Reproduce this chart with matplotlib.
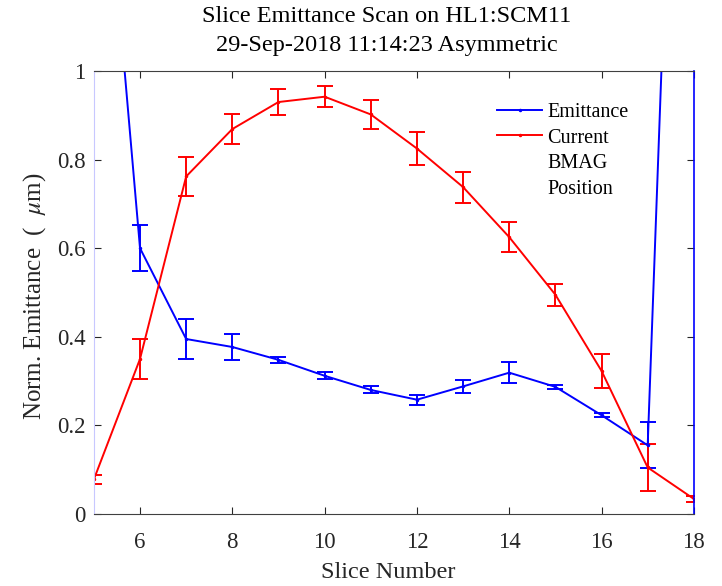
import matplotlib
matplotlib.use("Agg")
import matplotlib.pyplot as plt
from matplotlib.lines import Line2D

plt.rcParams["font.family"] = ["Liberation Serif", "DejaVu Serif"]
plt.rcParams["mathtext.fontset"] = "stix"

# Slice scan data
slices = [5, 6, 7, 8, 9, 10, 11, 12, 13, 14, 15, 16, 17, 18]
emittance = [1.80, 0.600, 0.395, 0.377, 0.348, 0.312, 0.280, 0.258, 0.288, 0.319, 0.287, 0.223, 0.155, 3.00]
emittance_err = [0.0, 0.052, 0.045, 0.030, 0.007, 0.008, 0.008, 0.011, 0.014, 0.024, 0.005, 0.004, 0.052, 0.0]
current = [0.078, 0.350, 0.762, 0.869, 0.930, 0.942, 0.902, 0.825, 0.738, 0.625, 0.495, 0.323, 0.105, 0.034]
current_err = [0.010, 0.045, 0.045, 0.034, 0.029, 0.024, 0.032, 0.037, 0.035, 0.034, 0.025, 0.038, 0.053, 0.006]

xticks = [6, 8, 10, 12, 14, 16, 18]
yticks = [0, 0.2, 0.4, 0.6, 0.8, 1.0]
ytick_labels = ["0", "0.2", "0.4", "0.6", "0.8", "1"]

title_lines = ["Slice Emittance Scan on HL1:SCM11", "29-Sep-2018 11:14:23 Asymmetric"]
legend_labels = ["Emittance", "Current", "BMAG", "Position"]

fig = plt.figure(figsize=(7.22, 5.86), dpi=100)
ax = fig.add_axes([0.130, 0.1229, 0.831, 0.7559])

ax.errorbar(slices, emittance, yerr=emittance_err, color="#0000ff", lw=1.4,
            marker=".", ms=3, capsize=6, elinewidth=1.4, capthick=1.4)
ax.errorbar(slices, current, yerr=current_err, color="#ff0000", lw=1.4,
            marker=".", ms=3, capsize=6, elinewidth=1.4, capthick=1.4)

ax.set_xlim(5, 18)
ax.set_ylim(0, 1)
ax.set_xticks(xticks)
ax.set_yticks(yticks)
ax.set_yticklabels(ytick_labels)

text_color = "#262626"
ax.tick_params(direction="in", length=5, width=0.8, colors="#262626",
               labelsize=16.5, top=True, right=True, labelcolor=text_color)
ax.tick_params(axis="x", pad=13)
ax.tick_params(axis="y", pad=6)

ax.spines["left"].set_color("#c8c8ff")
ax.spines["right"].set_color("#0000ff")
ax.spines["right"].set_linewidth(1.2)
ax.spines["top"].set_color("#404040")
ax.spines["bottom"].set_color("#404040")

ax.set_xlabel("Slice Number", fontsize=17.5, color=text_color)
ax.xaxis.label.set_verticalalignment("center")
ax.xaxis.set_label_coords(0.49, -0.131)
ax.set_ylabel("Norm. Emittance  (  $\\mu$m)", fontsize=18, color=text_color)
ax.yaxis.label.set_verticalalignment("center")
ax.yaxis.set_label_coords(-0.098, 0.492)

fig.text(0.5353, 1 - 17 / 586, title_lines[0], fontsize=17.5, color="#000000",
         ha="center", va="center")
fig.text(0.5353, 1 - 45 / 586, title_lines[1], fontsize=17.5, color="#000000",
         ha="center", va="center")

handles = [
    Line2D([], [], color="#0000ff", lw=1.4, marker=".", ms=3),
    Line2D([], [], color="#ff0000", lw=1.4, marker=".", ms=3),
    Line2D([], [], color="none"),
    Line2D([], [], color="none"),
]
ax.legend(handles, legend_labels, loc="upper left", bbox_to_anchor=(0.672, 0.929),
          frameon=False, fontsize=14.5, handlelength=2.25, handletextpad=0.26,
          labelspacing=0.34, borderpad=0, borderaxespad=0, labelcolor="#000000")

fig.savefig("out.png", dpi=100, facecolor="white")
